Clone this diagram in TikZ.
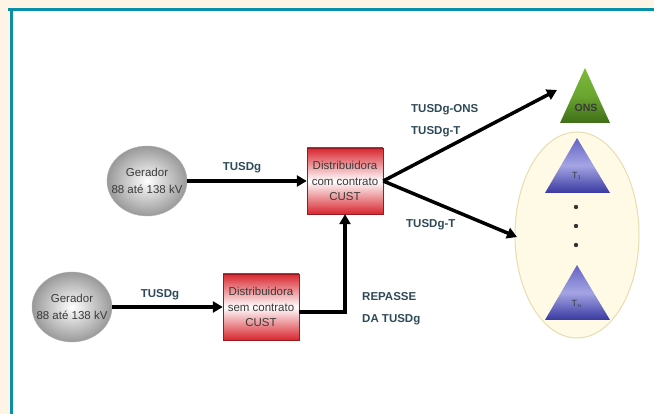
\documentclass[tikz,border=0pt]{standalone}
\usepackage{fontspec}
\setmainfont{Liberation Sans}
\usetikzlibrary{arrows.meta,shapes.geometric}
\definecolor{cream}{HTML}{FDF4E6}
\definecolor{frameblue}{HTML}{0A8FA8}
\definecolor{lbl}{HTML}{2E4A58}
\definecolor{boxred}{HTML}{D8262E}
\definecolor{ellfill}{HTML}{FEFAE6}
\definecolor{elldraw}{HTML}{E8DDB0}
\definecolor{txtgray}{HTML}{3A3A3A}
\definecolor{ttop}{HTML}{6464C4}
\definecolor{tmid}{HTML}{A4A4E4}
\definecolor{tbot}{HTML}{3838A0}
\definecolor{gtop}{HTML}{7DBA3A}
\definecolor{gmid}{HTML}{6AA530}
\definecolor{gbot}{HTML}{3F6E18}
\newcommand{\zw}[1]{\makebox[0pt]{#1}}
\tikzset{
  conn/.style={line width=3.5pt, -{Triangle[length=10pt,width=11pt]}},
  gerador/.style={ellipse, minimum width=80pt, minimum height=70pt, inner sep=0pt,
    inner color=white, outer color=gray!80, draw=gray!60, line width=0.4pt,
    align=center, font=\fontsize{11.5}{17}\selectfont, text=txtgray},
  distbox/.style={rectangle, minimum width=76pt, minimum height=66pt, inner sep=0pt,
    top color=boxred, bottom color=boxred, middle color=white, draw=boxred!70!black, line width=0.4pt,
    align=center, font=\fontsize{11.5}{15.5}\selectfont, text=txtgray},
  lab/.style={font=\bfseries\fontsize{11.5}{12}\selectfont, text=lbl, inner sep=0pt},
  labl/.style={lab, anchor=west},
  tri/.style={font=\fontsize{9}{9}\selectfont, text=txtgray, inner sep=0pt}
}
\begin{document}
\begin{tikzpicture}[x=1pt,y=-1pt]
\useasboundingbox (0,0) rectangle (654,414);
% frame
\fill[cream] (0,0) rectangle (654,414);
\fill[white] (12,10) rectangle (654,414);
\fill[frameblue] (8,8) rectangle (654,11);
\fill[frameblue] (10,8) rectangle (13,414);

% ellipse group on right
\filldraw[fill=ellfill, draw=elldraw, line width=1pt] (577,235) ellipse [x radius=62pt, y radius=103pt];

% triangles
\shade[top color=gtop, bottom color=gbot, middle color=gmid] (585,68) -- (610,123) -- (560,123) -- cycle;
\node[tri, font=\bfseries\fontsize{10.5}{10}\selectfont] (ons) at (586,108) {ONS};
\coordinate (onsin) at (557,90);

\shade[top color=ttop, bottom color=tbot, middle color=tmid] (577,138) -- (610,193) -- (545,193) -- cycle;
\node[tri] (t1) at (577,176) {T$_1$};

\fill[black!80] (576,207) circle (2.2pt);
\fill[black!80] (576,226) circle (2.2pt);
\fill[black!80] (576,245) circle (2.2pt);

\shade[top color=ttop, bottom color=tbot, middle color=tmid] (577,265) -- (610,320) -- (545,320) -- cycle;
\node[tri] (tn) at (577,304) {T$_n$};
\coordinate (ellin) at (517,237);

% nodes
\node[gerador] (g1) at (147,181) {\zw{Gerador}\\\zw{88 até 138 kV}};
\node[gerador] (g2) at (72,307) {\zw{Gerador}\\\zw{88 até 138 kV}};
\node[distbox] (b1) at (345,181) {Distribuidora\\com contrato\\CUST};
\node[distbox] (b2) at (261,307) {Distribuidora\\sem contrato\\CUST};

% connectors
\draw[conn] (g1) -- (b1);
\draw[conn] (g2) -- (b2);
\draw[conn] ([yshift=-5pt]b2.east) -| (b1.south);
\draw[conn] (b1.east) -- (onsin);
\draw[conn] (b1.east) -- (ellin);

% labels
\node[lab] (l1) at (242,168) {TUSDg};
\node[lab] (l2) at (160,295) {TUSDg};
\node[labl] (l3) at (362,297) {REPASSE};
\node[labl] (l4) at (362,320) {DA TUSDg};
\node[labl] (l5) at (411,110) {TUSDg-ONS};
\node[labl] (l6) at (411,132) {TUSDg-T};
\node[labl] (l7) at (406,225) {TUSDg-T};
\end{tikzpicture}
\end{document}
